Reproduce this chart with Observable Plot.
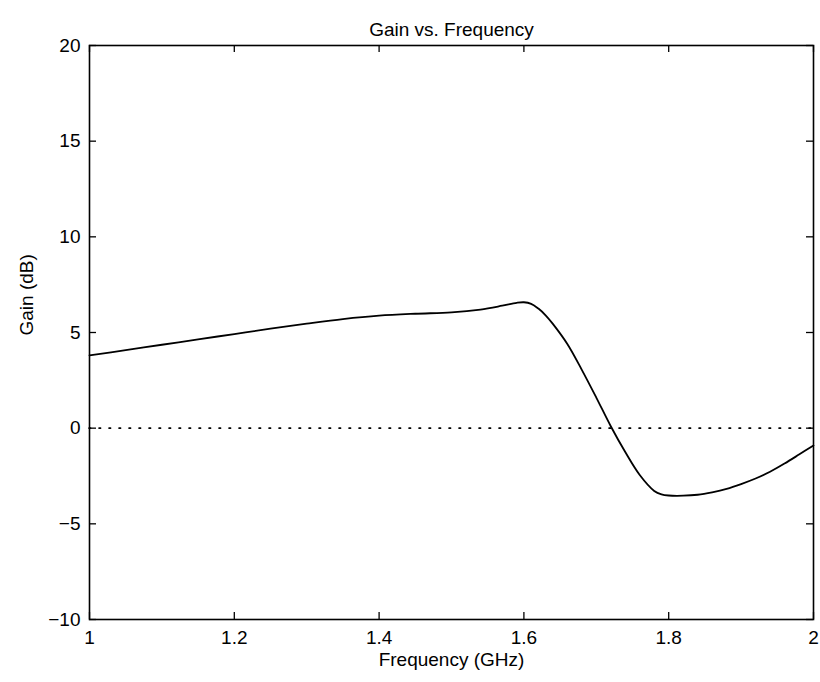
<!DOCTYPE html>
<html><head><meta charset="utf-8">
<script src="https://cdn.jsdelivr.net/npm/d3@7"></script>
<script src="https://cdn.jsdelivr.net/npm/@observablehq/plot@0.6"></script>
<style>body{margin:0;background:#fff}</style>
</head><body><div id="chart"></div>
<script>
const freq = [1.00,1.05,1.10,1.15,1.20,1.25,1.30,1.35,1.40,1.45,1.50,1.54,1.57,1.59,1.60,1.61,1.62,1.63,1.64,1.66,1.68,1.70,1.72,1.74,1.76,1.78,1.79,1.80,1.82,1.84,1.86,1.88,1.90,1.92,1.94,1.96,1.98,2.00];
const gain = [3.8,4.08,4.36,4.64,4.92,5.2,5.46,5.7,5.88,5.98,6.05,6.2,6.4,6.55,6.58,6.5,6.25,5.9,5.45,4.4,3.05,1.6,0.1,-1.25,-2.45,-3.28,-3.46,-3.52,-3.53,-3.48,-3.35,-3.17,-2.92,-2.63,-2.28,-1.85,-1.38,-0.9];
const xTicks = [1,1.2,1.4,1.6,1.8,2];
const yTicks = [-10,-5,0,5,10,15,20];
const titleText = "Gain vs. Frequency";
const xLabel = "Frequency (GHz)";
const yLabel = "Gain (dB)";

const data = freq.map((f, i) => ({f, g: gain[i]}));
const W = 820, H = 682, mL = 89, mR = 7, mT = 45, mB = 63;
const pw = W - mL - mR, ph = H - mT - mB, tk = 7;
const fs = 19;

const chart = Plot.plot({
  width: W, height: H,
  marginLeft: mL, marginRight: mR, marginTop: mT, marginBottom: mB,
  style: {fontFamily: "'Liberation Sans', Arial, Helvetica, sans-serif", fontSize: fs + "px", color: "black", background: "white", overflow: "visible"},
  x: {domain: [1, 2]},
  y: {domain: [-10, 20]},
  marks: [
    Plot.ruleY([0], {stroke: "black", strokeWidth: 1.6, strokeDasharray: "1.6,8.4", strokeLinecap: "round"}),
    Plot.line(data, {x: "f", y: "g", curve: "catmull-rom", stroke: "black", strokeWidth: 1.8}),
    Plot.tickX(xTicks, {x: d => d, insetTop: ph - tk, stroke: "black", strokeWidth: 1.3}),
    Plot.tickX(xTicks, {x: d => d, insetBottom: ph - tk, stroke: "black", strokeWidth: 1.3}),
    Plot.tickY(yTicks, {y: d => d, insetRight: pw - tk, stroke: "black", strokeWidth: 1.3}),
    Plot.tickY(yTicks, {y: d => d, insetLeft: pw - tk, stroke: "black", strokeWidth: 1.3}),
    Plot.frame({stroke: "black", strokeWidth: 1.6}),
    Plot.axisX(xTicks, {tickSize: 0, tickPadding: 11, label: null, tickFormat: d => String(d), fontSize: fs}),
    Plot.axisY(yTicks, {tickSize: 0, tickPadding: 9, label: null, tickFormat: d => d < 0 ? "\u2212" + (-d) : String(d), fontSize: fs}),
    Plot.text([titleText], {text: d => d, frameAnchor: "top", dy: -23, fontSize: fs, fill: "black"}),
    Plot.text([xLabel], {text: d => d, frameAnchor: "bottom", dy: 46, fontSize: fs, fill: "black"}),
    Plot.text([yLabel], {text: d => d, frameAnchor: "left", rotate: -90, dx: -63, dy: 3, fontSize: fs, fill: "black"})
  ]
});
document.getElementById("chart").append(chart);
</script>
</body></html>
